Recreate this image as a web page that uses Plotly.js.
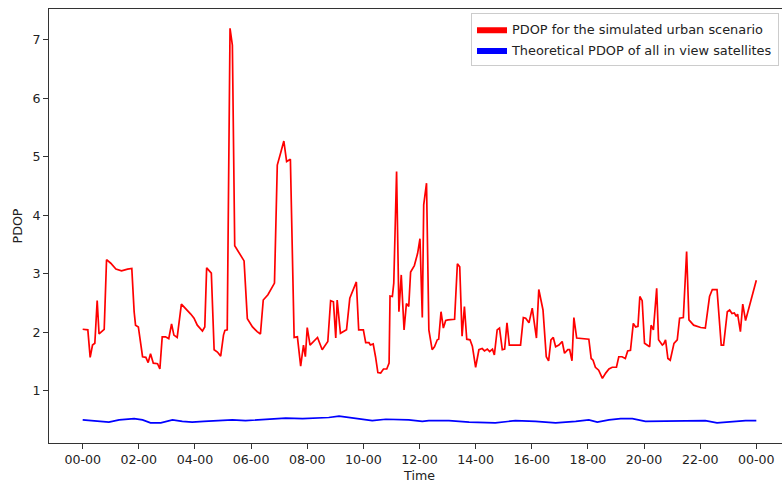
<!DOCTYPE html>
<html>
<head>
<meta charset="utf-8">
<script src="https://cdn.plot.ly/plotly-3.0.1.min.js"></script>
<style>
  html, body { margin: 0; padding: 0; overflow: hidden; background: #fff; }
  #chart { width: 792px; height: 483px; }
</style>
</head>
<body>
<div id="chart"></div>
<script>
// Minutes since midnight and PDOP for the simulated urban scenario
const urbanMinutes = [0, 11, 16, 21, 26, 31, 35, 42, 46, 51, 60, 71, 83, 96, 105, 110, 113, 119, 128, 135,
  140, 145, 151, 160, 165, 170, 177, 184, 190, 195, 202, 211, 220, 231, 238, 245, 256, 261, 265, 275,
  281, 288, 295, 301, 304, 309, 315, 320, 325, 334, 345, 352, 363, 373, 380, 386, 396, 410, 416, 423,
  430, 436, 444, 452, 459, 466, 472, 476, 480, 486, 502, 512, 524, 530, 536, 541, 544, 551, 564, 571,
  585, 590, 600, 605, 612, 615, 621, 626, 631, 637, 643, 650, 655, 657, 662, 665, 671, 676, 681, 687,
  692, 697, 701, 709, 716, 721, 726, 729, 735, 740, 747, 752, 758, 761, 766, 771, 776, 781, 795, 801,
  806, 811, 816, 821, 828, 833, 840, 847, 854, 859, 865, 870, 876, 880, 886, 891, 897, 902, 907, 912,
  936, 942, 947, 954, 961, 970, 975, 984, 991, 996, 1001, 1006, 1011, 1018, 1025, 1030, 1037, 1041, 1046, 1050,
  1056, 1082, 1087, 1091, 1096, 1103, 1111, 1118, 1125, 1132, 1141, 1146, 1153, 1160, 1165, 1171, 1177, 1182, 1187, 1191,
  1196, 1201, 1207, 1212, 1215, 1220, 1227, 1231, 1239, 1242, 1246, 1251, 1256, 1264, 1271, 1276, 1284, 1291, 1296, 1306,
  1321, 1331, 1340, 1346, 1356, 1365, 1370, 1378, 1383, 1388, 1393, 1397, 1400, 1406, 1411, 1417, 1440];
const urbanPdop = [2.05, 2.04, 1.57, 1.78, 1.81, 2.54, 1.97, 2.03, 2.05, 3.24, 3.18, 3.08, 3.05, 3.08, 3.09, 2.35, 2.12, 2.09, 1.58, 1.57,
  1.48, 1.63, 1.47, 1.46, 1.37, 1.92, 1.92, 1.89, 2.14, 1.95, 1.91, 2.48, 2.41, 2.31, 2.24, 2.12, 2.02, 2.09, 3.10, 3.01,
  1.70, 1.66, 1.59, 1.95, 2.03, 2.04, 7.20, 6.91, 3.48, 3.36, 3.22, 2.23, 2.09, 2.01, 1.97, 2.55, 2.64, 2.84, 4.86, 5.06,
  5.27, 4.92, 4.96, 1.91, 1.92, 1.42, 1.78, 1.58, 2.08, 1.78, 1.91, 1.70, 1.84, 2.54, 2.52, 1.90, 2.55, 1.98, 2.04, 2.58,
  2.86, 2.04, 2.04, 1.82, 1.82, 1.78, 1.80, 1.58, 1.31, 1.30, 1.37, 1.37, 1.47, 2.62, 2.61, 2.84, 4.75, 2.35, 2.98, 2.04,
  2.49, 2.44, 3.03, 3.14, 3.35, 3.60, 2.25, 4.18, 4.55, 2.04, 1.70, 1.75, 1.87, 1.88, 2.35, 2.07, 2.20, 2.21, 2.22, 3.17,
  3.12, 1.93, 2.44, 1.88, 1.87, 1.76, 1.40, 1.70, 1.72, 1.68, 1.71, 1.67, 1.71, 1.61, 2.04, 2.07, 1.70, 1.71, 2.16, 1.78,
  1.78, 2.25, 2.24, 2.16, 2.41, 1.90, 2.73, 2.38, 1.58, 1.51, 1.87, 1.91, 1.75, 1.78, 1.84, 1.64, 1.70, 1.70, 1.51, 2.25,
  1.90, 1.88, 1.55, 1.52, 1.40, 1.35, 1.21, 1.30, 1.37, 1.40, 1.40, 1.58, 1.58, 1.55, 1.68, 1.69, 2.15, 2.09, 2.10, 2.61,
  2.54, 1.81, 1.78, 1.75, 2.12, 2.04, 2.75, 1.87, 1.78, 1.80, 1.87, 1.55, 1.52, 1.81, 1.87, 2.24, 2.25, 3.38, 2.21, 2.12,
  2.08, 2.07, 2.61, 2.73, 2.73, 1.78, 1.78, 2.35, 2.38, 2.32, 2.33, 2.27, 2.31, 2.01, 2.48, 2.20, 2.89];

// Minutes since midnight and theoretical PDOP of all in-view satellites
const theoryMinutes = [0, 28, 56, 78, 110, 128, 145, 167, 192, 213, 234, 259, 284, 320, 348, 384, 412, 434, 470, 498,
  526, 548, 569, 598, 619, 648, 676, 697, 726, 740, 783, 826, 882, 925, 968, 1011, 1054, 1082, 1100, 1125,
  1150, 1175, 1203, 1231, 1267, 1303, 1331, 1356, 1388, 1417, 1440];
const theoryPdop = [0.50, 0.486, 0.46, 0.50, 0.52, 0.50, 0.45, 0.45, 0.50, 0.475, 0.46, 0.475, 0.486, 0.50, 0.486, 0.50, 0.51, 0.53, 0.52, 0.53,
  0.54, 0.565, 0.54, 0.51, 0.486, 0.51, 0.51, 0.50, 0.475, 0.486, 0.486, 0.46, 0.45, 0.486, 0.475, 0.45, 0.475, 0.50, 0.46, 0.50,
  0.52, 0.52, 0.475, 0.475, 0.475, 0.486, 0.486, 0.45, 0.475, 0.486, 0.486];

const seriesNames = ['PDOP for the simulated urban scenario', 'Theoretical PDOP of all in view satellites'];
const seriesColors = ['#ff0000', '#0000ff'];

// Convert minutes since midnight to a date string on a fixed day
function toStamp(min) {
  const base = Date.UTC(2000, 0, 1);
  const d = new Date(base + min * 60000);
  const p = n => String(n).padStart(2, '0');
  return d.getUTCFullYear() + '-' + p(d.getUTCMonth() + 1) + '-' + p(d.getUTCDate()) + ' ' +
         p(d.getUTCHours()) + ':' + p(d.getUTCMinutes()) + ':' + p(d.getUTCSeconds());
}

const font = { family: 'DejaVu Sans, sans-serif', size: 12.6, color: '#222' };

const traces = [
  { x: urbanMinutes.map(toStamp), y: urbanPdop, mode: 'lines', type: 'scatter',
    line: { color: seriesColors[0], width: 1.7 }, showlegend: false, hoverinfo: 'skip' },
  { x: theoryMinutes.map(toStamp), y: theoryPdop, mode: 'lines', type: 'scatter',
    line: { color: seriesColors[1], width: 1.7 }, showlegend: false, hoverinfo: 'skip' },
  // legend patches
  { x: [null], y: [null], mode: 'lines', fill: 'toself', fillcolor: seriesColors[0],
    line: { width: 0, color: seriesColors[0] }, name: seriesNames[0], legendgroup: 'a' },
  { x: [null], y: [null], mode: 'lines', fill: 'toself', fillcolor: seriesColors[1],
    line: { width: 0, color: seriesColors[1] }, name: seriesNames[1], legendgroup: 'b' }
];

const layout = {
  width: 792, height: 483,
  margin: { l: 49, r: 2, t: 9, b: 40 },
  paper_bgcolor: '#fff', plot_bgcolor: '#fff',
  font: font,
  showlegend: true,
  legend: {
    x: (779 - 49) / 741, xanchor: 'right', y: 0.99, yanchor: 'top',
    bgcolor: 'rgba(255,255,255,0.8)', bordercolor: '#cccccc', borderwidth: 1,
    font: { family: 'DejaVu Sans, sans-serif', size: 12.9, color: '#222' },
    traceorder: 'grouped', tracegroupgap: 1
  },
  xaxis: {
    type: 'date',
    range: [toStamp(-72), toStamp(1512)],
    tick0: '2000-01-01 00:00:00', dtick: 7200000, tickformat: '%H-%M',
    ticks: 'outside', ticklen: 5, tickwidth: 1, tickcolor: '#333',
    showline: true, linecolor: '#333', linewidth: 1, mirror: true,
    showgrid: false, zeroline: false,
    tickfont: font,
    title: { text: 'Time', font: font, standoff: 6 }
  },
  yaxis: {
    range: [0.104, 7.53],
    tickvals: [1, 2, 3, 4, 5, 6, 7],
    ticks: 'outside', ticklen: 5, tickwidth: 1, tickcolor: '#333',
    showline: true, linecolor: '#333', linewidth: 1, mirror: false,
    showgrid: false, zeroline: false,
    tickfont: font,
    title: { text: 'PDOP', font: font, standoff: 7 }
  }
};

Plotly.newPlot('chart', traces, layout, { displayModeBar: false, staticPlot: true });
</script>
</body>
</html>
